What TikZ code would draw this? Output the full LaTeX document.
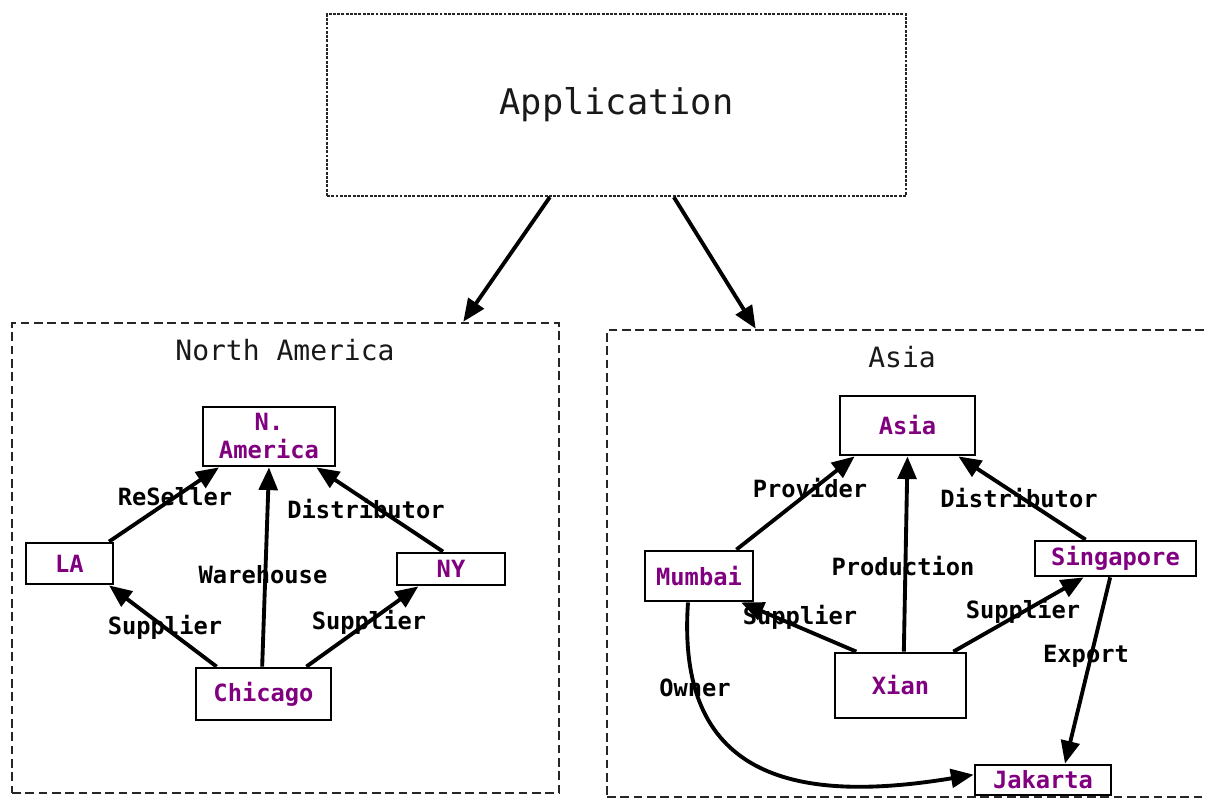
\documentclass[tikz,border=0pt]{standalone}
\usepackage{fontspec}
\setmainfont{DejaVu Sans Mono}
\usetikzlibrary{arrows.meta,calc}
\definecolor{nodepurple}{RGB}{128,0,128}
\begin{document}
\begin{tikzpicture}[x=0.75pt,y=-0.75pt,
  city/.style={draw=black,line width=2.1pt,fill=white,inner sep=0pt,text=nodepurple,
    font=\fontsize{17.8}{22}\selectfont\bfseries,align=center},
  elabel/.style={inner sep=0pt,font=\fontsize{17.8}{22}\selectfont\bfseries},
  rel/.style={line width=2.9pt,-{Triangle[length=17pt,width=14pt]}},
  group/.style={draw=black!85,line width=1.9pt,dash pattern=on 6.5pt off 3.5pt},
  appbox/.style={draw=black!85,line width=1.7pt,dash pattern=on 2.2pt off 1pt}]
\useasboundingbox (0,0) rectangle (1206,800);
\fill[white] (0,0) rectangle (1206,800);

% application
\node[appbox,minimum width=434.25pt,minimum height=136.5pt,inner sep=0pt] (app) at (616.5,105) {};
\node[font=\fontsize{26.5}{30}\selectfont,text=black!90] (apptext) at (616.5,105) {Application};

% groups
\node[group,minimum width=410.25pt,minimum height=352.5pt,inner sep=0pt] (nabox) at (285.5,558) {};
\node[group,minimum width=453.75pt,minimum height=350.25pt,inner sep=0pt] (asiabox) at (909.5,563.5) {};
\node[font=\fontsize{21}{25}\selectfont,text=black!90] (natitle) at (285,350) {North America};
\node[font=\fontsize{21}{25}\selectfont,text=black!90] (asiatitle) at (902,357) {Asia};

\draw[rel] ([xshift=-50pt]app.south) -- ([xshift=-72.75pt]nabox.north east);
\draw[rel] ([xshift=43pt]app.south) -- ([xshift=112.5pt]asiabox.north west);

% North America nodes
\node[city,minimum width=99pt,minimum height=44.25pt] (nam) at (269,436.5) {N.\\[-1pt]America};
\node[city,minimum width=65.25pt,minimum height=30.75pt] (la) at (69.5,563.5) {LA};
\node[city,minimum width=81pt,minimum height=24pt] (ny) at (451,569) {NY};
\node[city,minimum width=101.25pt,minimum height=39pt] (chi) at (263.5,694) {Chicago};

% North America labels
\node[elabel] (l1) at (175,497) {ReSeller};
\node[elabel] (l2) at (366,509) {Distributor};
\node[elabel] (l3) at (263,575) {Warehouse};
\node[elabel] (l4) at (165,627) {Supplier};
\node[elabel] (l5) at (369,622) {Supplier};

\draw[rel] ([xshift=-4pt]la.north east) -- ([xshift=13pt]nam.south west);
\draw[rel] ([xshift=16.5pt]chi.north west) -- ([xshift=-4pt]la.south east);
\draw[rel] ([xshift=-1pt]chi.north) -- (nam.south);
\draw[rel] ([xshift=-19.5pt]chi.north east) -- ([xshift=17pt]ny.south west);
\draw[rel] ([xshift=-6pt]ny.north) -- ([xshift=-15pt]nam.south east);

% Asia nodes
\node[city,minimum width=101.25pt,minimum height=44.25pt] (asia) at (907.5,425.5) {Asia};
\node[city,minimum width=81pt,minimum height=37.5pt] (mum) at (699,576) {Mumbai};
\node[city,minimum width=120.75pt,minimum height=26.25pt] (sin) at (1115.5,558.5) {Singapore};
\node[city,minimum width=98.25pt,minimum height=48.75pt] (xian) at (900.5,685.5) {Xian};
\node[city,minimum width=102pt,minimum height=22.5pt] (jak) at (1043,780) {Jakarta};

% Asia labels
\node[elabel] (a1) at (810,488) {Provider};
\node[elabel] (a2) at (1019,498) {Distributor};
\node[elabel] (a3) at (903,566) {Production};
\node[elabel] (a4) at (800,617) {Supplier};
\node[elabel] (a5) at (1023,611) {Supplier};
\node[elabel] (a6) at (1086,656) {Export};
\node[elabel] (a7) at (695,688) {Owner};

\draw[rel] ([xshift=-13.5pt]mum.north east) -- ([xshift=12pt]asia.south west);
\draw[rel] ([xshift=2.5pt]xian.north) -- (asia.south);
\draw[rel] ([xshift=39pt]sin.north west) -- ([xshift=-13.5pt]asia.south east);
\draw[rel] ([xshift=17pt]xian.north west) -- ([xshift=-10pt]mum.south east);
\draw[rel] ([xshift=-10.5pt]xian.north east) -- ([xshift=37.5pt]sin.south west);
\draw[rel] ([xshift=-4pt]sin.south) -- ([xshift=16.5pt]jak.north);
\draw[rel] ([xshift=-8.25pt]mum.south) .. controls (676,775) and (790,805) .. ([yshift=4pt]jak.west);
\end{tikzpicture}
\end{document}
